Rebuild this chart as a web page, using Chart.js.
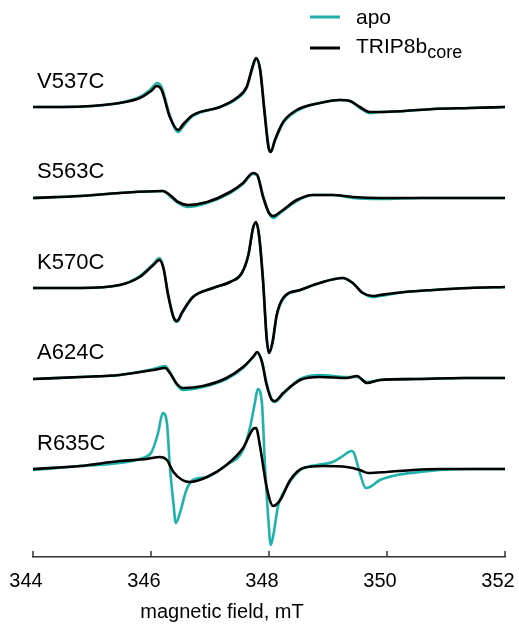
<!DOCTYPE html>
<html>
<head>
<meta charset="utf-8">
<script src="https://cdn.jsdelivr.net/npm/chart.js@4/dist/chart.umd.min.js"></script>
<style>
  html, body { margin: 0; padding: 0; background: #fff; }
  #wrap { position: relative; width: 519px; height: 625px; }
</style>
</head>
<body>
<div id="wrap"><canvas id="epr"></canvas></div>
<script>
// spectra: field in mT, amplitude relative to each trace's own baseline (arb. units)
const SAMPLES = ['V537C', 'S563C', 'K570C', 'A624C', 'R635C'];
const BASELINES = [450, 360, 269, 179, 88];   // vertical stacking of the traces
const X_TICKS = [344, 346, 348, 350, 352];

const FIELD_V537C = [344, 344.5, 345, 345.47, 345.81, 346.0, 346.1, 346.18, 346.32, 346.46, 346.55, 346.71, 347.17, 347.45, 347.62, 347.72, 347.78, 347.85, 347.92, 347.99, 348.03, 348.1, 348.24, 348.47, 348.86, 349.2, 349.37, 349.54, 349.71, 349.88, 350.3, 350.78, 351.4, 352];
const CORE_V537C = [0, 0, 1, 4, 9, 16, 21, 17, -10, -23, -17, -8, 0, 9, 20, 40, 49, 37, -3, -40, -45, -33, -15, -3, 4, 7, 6, 0, -5, -5, -4, -2, -1, 0];
const APO_V537C  = [0, 0, 1, 4, 10, 18, 24, 20, -9, -25, -19, -9, 0, 8, 19, 39, 48, 38, -1, -38, -45, -34, -16, -4, 4, 7, 6, -1, -6, -5, -4, -2, -1, 0];

const FIELD_S563C = [344, 344.8, 345.47, 346.2, 346.32, 346.46, 346.63, 346.95, 347.34, 347.56, 347.73, 347.8, 347.9, 348.0, 348.07, 348.19, 348.47, 348.75, 349.08, 349.42, 349.88, 350.6, 351.3, 352];
const CORE_S563C = [-1, 1, 4, 6, 2, -5, -8, -5, 5, 14, 24, 22, 0, -16, -19, -15, -3, 2, 2, 0, -1, -1, -1, -1];
const APO_S563C  = [-1, 1, 4, 6, 1, -6, -10, -6, 4, 13, 23, 22, 1, -16, -21, -16, -4, 2, 2, -1, -2, -1, -1, -1];

const FIELD_K570C = [344, 344.8, 345.47, 345.81, 346.04, 346.14, 346.21, 346.29, 346.38, 346.44, 346.53, 346.71, 347.05, 347.34, 347.54, 347.65, 347.73, 347.78, 347.83, 347.9, 347.96, 348.0, 348.06, 348.13, 348.24, 348.53, 348.86, 349.25, 349.42, 349.59, 349.76, 349.88, 350.3, 350.78, 351.4, 352];
const CORE_K570C = [0, 0, 3, 11, 23, 28, 20, -7, -29, -33, -24, -9, 0, 6, 15, 33, 60, 66, 53, 6, -50, -65, -54, -27, -10, -2, 5, 10, 5, -5, -8, -7, -4, -2, 0, 1];
const APO_K570C  = [0, 0, 3, 12, 24, 30, 21, -6, -29, -34, -25, -9, 0, 6, 15, 33, 60, 65, 54, 8, -49, -65, -55, -28, -11, -2, 5, 10, 5, -5, -9, -8, -4, -2, 0, 1];

const FIELD_A624C = [344, 344.8, 345.47, 346.04, 346.24, 346.32, 346.44, 346.54, 346.88, 347.28, 347.56, 347.73, 347.8, 347.88, 347.96, 348.05, 348.1, 348.24, 348.53, 348.86, 349.32, 349.49, 349.66, 349.88, 350.5, 351.3, 352];
const CORE_A624C = [-1, 1, 3, 8, 10, 5, -6, -10, -8, 0, 11, 21, 26, 16, -7, -22, -23, -15, -2, 1, 0, 2, -5, -2, -1, 0, 0];
const APO_A624C  = [-1, 1, 3, 9, 12, 6, -7, -12, -9, -1, 10, 21, 25, 17, -5, -22, -24, -16, -1, 3, 1, 1, -4, -2, -1, 0, 0];

const FIELD_R635C_CORE = [344, 344.8, 345.47, 345.93, 346.15, 346.27, 346.38, 346.53, 346.66, 346.95, 347.28, 347.56, 347.73, 347.78, 347.85, 347.96, 348.07, 348.19, 348.36, 348.58, 348.92, 349.32, 349.54, 349.68, 350.0, 350.44, 350.9, 351.5, 352];
const CORE_R635C = [0, 3, 8, 10, 12, 9, -3, -11, -13, -8, 4, 21, 40, 41, 22, -18, -37, -31, -11, 1, 3, 2, -1, -4, -3, -1, 0, 0, 0];
const FIELD_R635C_APO = [344, 344.8, 345.47, 345.86, 346.01, 346.12, 346.2, 346.27, 346.32, 346.38, 346.42, 346.49, 346.6, 346.71, 346.95, 347.28, 347.56, 347.68, 347.76, 347.81, 347.88, 347.93, 347.99, 348.03, 348.08, 348.15, 348.3, 348.53, 348.81, 349.08, 349.25, 349.4, 349.44, 349.54, 349.64, 349.71, 349.88, 350.17, 350.56, 350.9, 351.5, 352];
const APO_R635C = [-1, 3, 6, 11, 17, 36, 56, 46, 2, -34, -54, -44, -21, -11, -8, 4, 19, 42, 66, 80, 66, 6, -51, -76, -64, -38, -18, -1, 4, 7, 13, 18, 16, -4, -19, -18, -11, -6, -3, -1, 0, 0];

const APO_FIELDS = [FIELD_V537C, FIELD_S563C, FIELD_K570C, FIELD_A624C, FIELD_R635C_APO];
const APO_SETS   = [APO_V537C, APO_S563C, APO_K570C, APO_A624C, APO_R635C];
const CORE_FIELDS = [FIELD_V537C, FIELD_S563C, FIELD_K570C, FIELD_A624C, FIELD_R635C_CORE];
const CORE_SETS   = [CORE_V537C, CORE_S563C, CORE_K570C, CORE_A624C, CORE_R635C];

const TEAL = '#20B2AA';
const INK = '#000';
const FONT = "'Liberation Sans', Arial, Helvetica, sans-serif";

const toPoints = (xs, ys, base) => xs.map((x, i) => ({ x, y: base + ys[i] }));

const datasets = [];
SAMPLES.forEach((name, k) => {
  datasets.push({
    label: name + ' TRIP8b',
    data: toPoints(CORE_FIELDS[k], CORE_SETS[k], BASELINES[k]),
    borderColor: INK, borderWidth: 2.6, order: 0
  });
  datasets.push({
    label: name + ' apo',
    data: toPoints(APO_FIELDS[k], APO_SETS[k], BASELINES[k]),
    borderColor: TEAL, borderWidth: 2.6, order: 1
  });
});

// axis ticks pointing up, trace labels, axis title and legend
const decor = {
  id: 'decor',
  afterDraw(chart) {
    const { ctx, scales: { x, y } } = chart;
    const yAxis = x.top;
    ctx.save();
    ctx.strokeStyle = '#333';
    ctx.lineWidth = 1.5;
    X_TICKS.forEach(t => {
      const px = x.getPixelForValue(t);
      ctx.beginPath();
      ctx.moveTo(px, yAxis);
      ctx.lineTo(px, yAxis - 6);
      ctx.stroke();
    });

    ctx.fillStyle = INK;
    ctx.textBaseline = 'alphabetic';
    ctx.textAlign = 'left';
    ctx.font = `22px ${FONT}`;
    SAMPLES.forEach((name, k) => {
      ctx.fillText(name, 37, y.getPixelForValue(BASELINES[k]) - 19);
    });

    ctx.font = `20px ${FONT}`;
    ctx.textAlign = 'center';
    ctx.fillText('magnetic field, mT', 222, 618);

    // legend
    ctx.lineWidth = 3;
    ctx.strokeStyle = TEAL;
    ctx.beginPath(); ctx.moveTo(310, 17); ctx.lineTo(340, 17); ctx.stroke();
    ctx.strokeStyle = INK;
    ctx.beginPath(); ctx.moveTo(310, 48); ctx.lineTo(340, 48); ctx.stroke();
    ctx.textAlign = 'left';
    ctx.font = `21px ${FONT}`;
    ctx.fillText('apo', 356, 24);
    ctx.fillText('TRIP8b', 356, 53);
    const w = ctx.measureText('TRIP8b').width;
    ctx.font = `18px ${FONT}`;
    ctx.fillText('core', 356 + w, 58);
    ctx.restore();
  }
};

new Chart(document.getElementById('epr'), {
  type: 'line',
  data: { datasets },
  options: {
    responsive: true,
    maintainAspectRatio: false,
    animation: false,
    layout: { padding: { top: 20, left: 33, right: 14, bottom: 0 } },
    elements: {
      point: { radius: 0 },
      line: { cubicInterpolationMode: 'monotone', borderCapStyle: 'round', borderJoinStyle: 'round' }
    },
    plugins: { legend: { display: false }, tooltip: { enabled: false } },
    scales: {
      x: {
        type: 'linear',
        min: 344,
        max: 352,
        afterBuildTicks: scale => { scale.ticks = X_TICKS.map(v => ({ value: v })); },
        afterFit: scale => { scale.height = 68; scale.paddingLeft = 0; scale.paddingRight = 0; },
        grid: { display: false, drawTicks: false },
        border: { display: true, color: '#333', width: 1.5 },
        ticks: { padding: 12, labelOffset: -7, color: INK, font: { family: FONT, size: 20 } }
      },
      y: { display: false, min: 0, max: 537 }
    }
  },
  plugins: [decor]
});
</script>
</body>
</html>
